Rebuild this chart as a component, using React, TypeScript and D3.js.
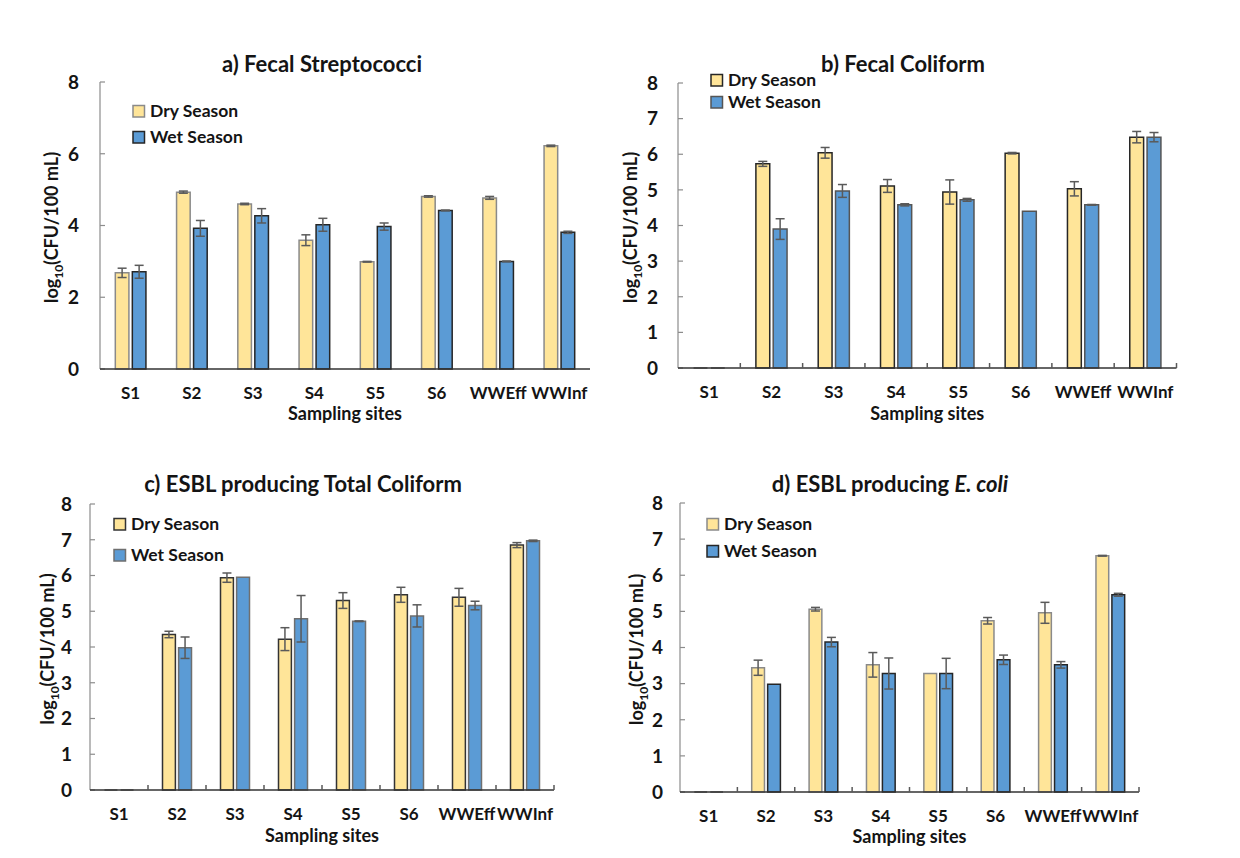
import React from "react";
import * as d3 from "d3";

const sites = ["S1", "S2", "S3", "S4", "S5", "S6", "WWEff", "WWInf"];
const seriesNames = ["Dry Season", "Wet Season"];

// a) Fecal Streptococci
const fsDry = [2.68, 4.93, 4.6, 3.59, 2.99, 4.81, 4.77, 6.22];
const fsDryErr = [0.13, 0.03, 0.02, 0.15, 0.01, 0.02, 0.04, 0.02];
const fsWet = [2.71, 3.92, 4.27, 4.02, 3.97, 4.42, 3.0, 3.81];
const fsWetErr = [0.18, 0.22, 0.2, 0.18, 0.1, 0.01, 0.01, 0.03];

// b) Fecal Coliform
const fcDry = [0, 5.73, 6.04, 5.11, 4.94, 6.03, 5.03, 6.48];
const fcDryErr = [0, 0.07, 0.15, 0.18, 0.34, 0.02, 0.2, 0.16];
const fcWet = [0, 3.9, 4.97, 4.58, 4.72, 4.4, 4.58, 6.48];
const fcWetErr = [0, 0.29, 0.18, 0.03, 0.04, 0, 0.01, 0.13];

// c) ESBL producing Total Coliform
const tcDry = [0, 4.35, 5.94, 4.22, 5.3, 5.46, 5.39, 6.85];
const tcDryErr = [0, 0.09, 0.13, 0.32, 0.22, 0.21, 0.25, 0.07];
const tcWet = [0, 3.98, 5.95, 4.79, 4.72, 4.87, 5.16, 6.97];
const tcWetErr = [0, 0.3, 0, 0.65, 0.01, 0.31, 0.12, 0.02];

// d) ESBL producing E. coli
const ecDry = [0, 3.44, 5.06, 3.52, 3.28, 4.74, 4.96, 6.54];
const ecDryErr = [0, 0.21, 0.05, 0.34, 0, 0.09, 0.29, 0.01];
const ecWet = [0, 2.98, 4.15, 3.28, 3.28, 3.66, 3.52, 5.46];
const ecWetErr = [0, 0, 0.13, 0.43, 0.42, 0.13, 0.09, 0.04];

const ticksEven = [0, 2, 4, 6, 8];
const ticksAll = [0, 1, 2, 3, 4, 5, 6, 7, 8];

const FONT = "Lato, 'Open Sans', sans-serif";
const DRY = "#FFE599";
const WET = "#5B9BD5";
const DARK = "#262626";
const GREY = "#8a8a8a";
const INK = "#141414";

type PanelProps = {
  title: React.ReactNode;
  titleX: number;
  titleY: number;
  x0: number;
  x1: number;
  yBottom: number;
  yTop: number;
  ticks: number[];
  xTicks: boolean;
  dry: number[];
  dryErr: number[];
  wet: number[];
  wetErr: number[];
  dryStroke: string;
  wetStroke: string;
  legX: number;
  legY1: number;
  legY2: number;
  yTitleX: number;
  tickLabelX: number;
  labelY: number;
  siteTitleY: number;
};

function Panel(p: PanelProps) {
  const x = d3.scaleBand<string>().domain(sites).range([p.x0, p.x1]).padding(0);
  const y = d3.scaleLinear().domain([0, 8]).range([p.yBottom, p.yTop]);
  const group = x.bandwidth() * 0.5;
  const sub = d3
    .scaleBand<string>()
    .domain(seriesNames)
    .range([-group / 2, group / 2])
    .paddingInner(0.2)
    .paddingOuter(0);
  const bw = sub.bandwidth();
  const series = [
    { name: seriesNames[0], vals: p.dry, errs: p.dryErr, fill: DRY, stroke: p.dryStroke },
    { name: seriesNames[1], vals: p.wet, errs: p.wetErr, fill: WET, stroke: p.wetStroke },
  ];
  const yMid = (p.yBottom + p.yTop) / 2 + 2;
  return (
    <g>
      <text
        x={p.titleX}
        y={p.titleY}
        textAnchor="middle"
        fontFamily={FONT}
        fontWeight={700}
        fontSize={22}
        fill={INK}
      >
        {p.title}
      </text>
      {/* y axis */}
      <line x1={p.x0} x2={p.x0} y1={y(0)} y2={y(8)} stroke="#8c8c8c" strokeWidth={1.2} />
      {p.ticks.map((t) => (
        <g key={t}>
          <line x1={p.x0} x2={p.x0 + 5} y1={y(t)} y2={y(t)} stroke="#8c8c8c" strokeWidth={1.2} />
          <text
            x={p.tickLabelX}
            y={y(t)}
            dy="0.36em"
            textAnchor="end"
            fontFamily={FONT}
            fontWeight={700}
            fontSize={19}
            fill={INK}
          >
            {t}
          </text>
        </g>
      ))}
      {/* y axis title */}
      <text
        transform={`translate(${p.yTitleX},${yMid}) rotate(-90)`}
        textAnchor="middle"
        fontFamily={FONT}
        fontWeight={700}
        fontSize={18}
        fill={INK}
      >
        log
        <tspan fontSize={12} dy={5}>
          10
        </tspan>
        <tspan dy={-5}>(CFU/100 mL)</tspan>
      </text>
      {/* bars */}
      {series.map((s) =>
        sites.map((site, i) => {
          const bx = (x(site) as number) + x.bandwidth() / 2 + (sub(s.name) as number);
          const top = y(s.vals[i]);
          const h = y(0) - top;
          return (
            <path
              key={s.name + site}
              d={`M${bx},${y(0)}V${top}H${bx + bw}V${y(0)}Z`}
              fill={s.fill}
              stroke={h > 0.5 ? s.stroke : "#595959"}
              strokeWidth={1.5}
            />
          );
        })
      )}
      {/* error bars */}
      {series.map((s) =>
        sites.map((site, i) => {
          if (s.errs[i] < 0.005) return null;
          const cx = (x(site) as number) + x.bandwidth() / 2 + (sub(s.name) as number) + bw / 2;
          const yh = y(s.vals[i] + s.errs[i]);
          const yl = y(s.vals[i] - s.errs[i]);
          return (
            <g key={"e" + s.name + site} stroke="#5a5a5a" strokeWidth={1.5}>
              <line x1={cx} x2={cx} y1={yh} y2={yl} />
              <line x1={cx - 4.5} x2={cx + 4.5} y1={yh} y2={yh} />
              <line x1={cx - 4.5} x2={cx + 4.5} y1={yl} y2={yl} />
            </g>
          );
        })
      )}
      {/* x axis */}
      <line x1={p.x0} x2={p.x1} y1={y(0)} y2={y(0)} stroke="#333" strokeWidth={1.5} />
      {p.xTicks &&
        sites.map((site) => {
          const tx = (x(site) as number) + x.bandwidth();
          return (
            <line key={"xt" + site} x1={tx} x2={tx} y1={y(0)} y2={y(0) - 5} stroke="#595959" strokeWidth={1.5} />
          );
        })}
      {sites.map((site) => (
        <text
          key={"xl" + site}
          x={(x(site) as number) + x.bandwidth() / 2}
          y={p.labelY}
          textAnchor="middle"
          fontFamily={FONT}
          fontWeight={700}
          fontSize={17}
          fill={INK}
        >
          {site}
        </text>
      ))}
      <text
        x={(p.x0 + p.x1) / 2}
        y={p.siteTitleY}
        textAnchor="middle"
        fontFamily={FONT}
        fontWeight={700}
        fontSize={18}
        fill={INK}
      >
        Sampling sites
      </text>
      {/* legend */}
      {series.map((s, k) => {
        const ly = k === 0 ? p.legY1 : p.legY2;
        return (
          <g key={"lg" + s.name}>
            <rect x={p.legX} y={ly - 11.5} width={11.5} height={11.5} fill={s.fill} stroke={s.stroke} strokeWidth={1.5} />
            <text
              x={p.legX + 17}
              y={ly}
              fontFamily={FONT}
              fontWeight={700}
              fontSize={17.5}
              fill={INK}
            >
              {s.name}
            </text>
          </g>
        );
      })}
    </g>
  );
}

export default function App() {
  return (
    <svg
      width={1240}
      height={858}
      style={{ position: "absolute", left: 0, top: 0, background: "#fff" }}
    >
      <rect width={1240} height={858} fill="#fff" />
      <Panel
        title="a) Fecal Streptococci"
        titleX={322}
        titleY={72}
        x0={100}
        x1={590}
        yBottom={369}
        yTop={82}
        ticks={ticksEven}
        xTicks={false}
        dry={fsDry}
        dryErr={fsDryErr}
        wet={fsWet}
        wetErr={fsWetErr}
        dryStroke={GREY}
        wetStroke={DARK}
        legX={133}
        legY1={117}
        legY2={143}
        yTitleX={58}
        tickLabelX={79}
        labelY={399}
        siteTitleY={420}
      />
      <Panel
        title="b) Fecal Coliform"
        titleX={903}
        titleY={72}
        x0={678}
        x1={1176.5}
        yBottom={368}
        yTop={83}
        ticks={ticksAll}
        xTicks={true}
        dry={fcDry}
        dryErr={fcDryErr}
        wet={fcWet}
        wetErr={fcWetErr}
        dryStroke={DARK}
        wetStroke={"#555"}
        legX={711}
        legY1={86}
        legY2={108}
        yTitleX={637}
        tickLabelX={658}
        labelY={398}
        siteTitleY={420}
      />
      <Panel
        title="c) ESBL producing Total Coliform"
        titleX={303}
        titleY={492}
        x0={90}
        x1={554}
        yBottom={790}
        yTop={504}
        ticks={ticksAll}
        xTicks={true}
        dry={tcDry}
        dryErr={tcDryErr}
        wet={tcWet}
        wetErr={tcWetErr}
        dryStroke={"#333"}
        wetStroke={"#6f6f6f"}
        legX={114}
        legY1={530}
        legY2={561}
        yTitleX={54}
        tickLabelX={72}
        labelY={820}
        siteTitleY={842}
      />
      <Panel
        title={
          <>
            d) ESBL producing <tspan fontStyle="italic">E. coli</tspan>
          </>
        }
        titleX={890}
        titleY={492}
        x0={680}
        x1={1139}
        yBottom={792}
        yTop={503}
        ticks={ticksAll}
        xTicks={true}
        dry={ecDry}
        dryErr={ecDryErr}
        wet={ecWet}
        wetErr={ecWetErr}
        dryStroke={GREY}
        wetStroke={DARK}
        legX={707}
        legY1={530}
        legY2={557}
        yTitleX={643}
        tickLabelX={663}
        labelY={822}
        siteTitleY={843}
      />
    </svg>
  );
}
